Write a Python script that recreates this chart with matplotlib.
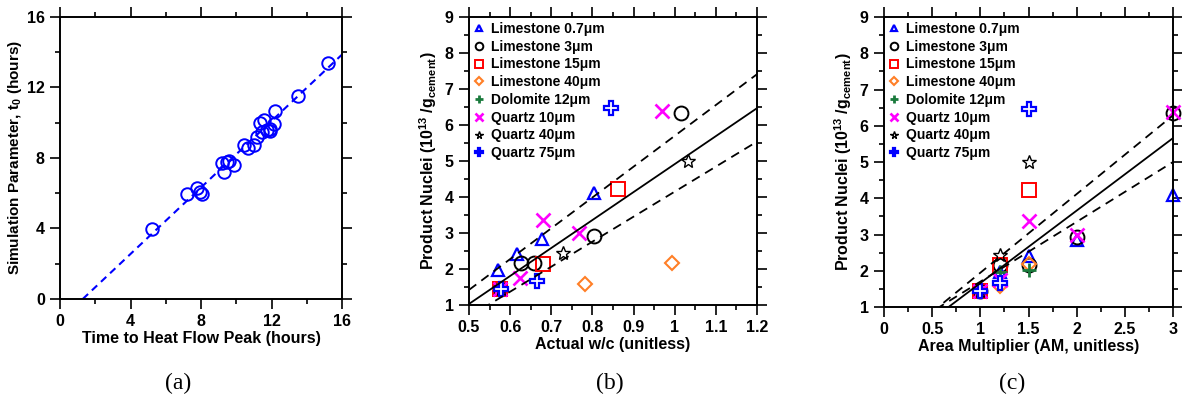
import numpy as np
import matplotlib
matplotlib.use("Agg")
import matplotlib.pyplot as plt
from matplotlib.ticker import MultipleLocator, FuncFormatter

plt.rcParams["font.family"] = ["Liberation Sans", "DejaVu Sans"]
plt.rcParams["font.weight"] = "bold"
plt.rcParams["axes.labelweight"] = "bold"
plt.rcParams["mathtext.default"] = "regular"

# (a) simulation t0 vs measured time to heat flow peak
t_peak = [5.21, 7.20, 7.77, 7.95, 8.05, 9.19, 9.28, 9.45, 9.56, 9.85, 10.42, 10.64,
          11.00, 11.17, 11.32, 11.46, 11.55, 11.74, 11.89, 11.93, 12.12, 12.22, 13.50, 15.21]
t0 = [3.95, 5.95, 6.31, 6.08, 5.95, 7.69, 7.18, 7.75, 7.82, 7.63, 8.73, 8.54,
      8.75, 9.20, 9.96, 9.48, 10.15, 9.58, 9.52, 9.67, 9.92, 10.67, 11.51, 13.40]
fit_a = (0.943, -1.216)

# (b), (c) product nuclei per mixture
names = ["Limestone 0.7\u03bcm", "Limestone 3\u03bcm", "Limestone 15\u03bcm", "Limestone 40\u03bcm",
         "Dolomite 12\u03bcm", "Quartz 10\u03bcm", "Quartz 40\u03bcm", "Quartz 75\u03bcm"]
wc_ls07 = [0.575, 0.570, 0.616, 0.677, 0.804]
wc_ls3 = [0.575, 0.627, 0.657, 0.804, 1.016]
wc_ls15 = [0.575, 0.680, 0.861]
wc_ls40 = [0.575, 0.781, 0.993]
wc_dol12 = [0.575, np.nan, np.nan]
wc_qz10 = [0.575, 0.624, 0.681, 0.768, 0.970]
wc_qz40 = [0.578, 0.728, 1.031]
wc_qz75 = [0.578, 0.666, 0.845]

am_5 = [1, 1.2, 1.5, 2, 3]
am_3 = [1, 1.2, 1.5]

n_ls07 = [1.45, 1.96, 2.42, 2.84, 4.10]
n_ls3 = [1.45, 2.16, 2.17, 2.93, 6.34]
n_ls15 = [1.45, 2.15, 4.22]
n_ls40 = [1.45, 1.59, 2.18]
n_dol12 = [1.45, 1.97, 2.02]
n_qz10 = [1.45, 1.75, 3.36, 3.00, 6.39]
n_qz40 = [1.45, 2.44, 5.01]
n_qz75 = [1.45, 1.67, 6.46]

wc_all = [wc_ls07, wc_ls3, wc_ls15, wc_ls40, wc_dol12, wc_qz10, wc_qz40, wc_qz75]
am_all = [am_5, am_5, am_3, am_3, am_3, am_5, am_3, am_3]
n_all = [n_ls07, n_ls3, n_ls15, n_ls40, n_dol12, n_qz10, n_qz40, n_qz75]

# slope, intercept of fit and bounds
fit_b = [(7.77, -2.855, "-"), (8.56, -2.86, "--"), (6.95, -2.80, "--")]
fit_c = [(2.00, -0.34, "-"), (2.17, -0.224, "--"), (1.65, 0.05, "--")]

styles = [
    dict(marker="^", color="#0000ff", ms=8, mew=1.6),
    dict(marker="o", color="black", ms=10, mew=1.4),
    dict(marker="s", color="#ff0000", ms=10, mew=1.4),
    dict(marker="D", color="#ff7f27", ms=7, mew=1.5),
    dict(marker="+", color="#1a7a3c", ms=10, mew=2.0),
    dict(marker="x", color="#ff00ff", ms=10, mew=1.9),
    dict(marker="*", color="black", ms=10, mew=1.0),
    dict(marker="P", color="#0000ff", ms=10, mew=1.6),
]


def style_axes(ax):
    for s in ax.spines.values():
        s.set_linewidth(1.4)
    ax.tick_params(which="both", direction="out", top=True, right=True,
                   width=1.2, labelsize=11.5, pad=4)
    ax.tick_params(which="major", length=7)
    ax.tick_params(which="minor", length=3.5)


fig = plt.figure(figsize=(11.82, 4.01), dpi=100)
ax_a = fig.add_axes([0.0508, 0.2544, 0.2386, 0.7032])
ax_b = fig.add_axes([0.3968, 0.2394, 0.2437, 0.7182])
ax_c = fig.add_axes([0.7479, 0.2344, 0.2445, 0.7232])

# panel (a)
ax_a.plot(t_peak, t0, "o", ms=9, mfc="none", mec="#0000ff", mew=1.4)
xa = np.linspace(-fit_a[1] / fit_a[0], 16, 50)
ax_a.plot(xa, fit_a[0] * xa + fit_a[1], color="#0000ff", lw=1.5, dashes=(3.5, 2.5))
ax_a.set_xlim(0, 16)
ax_a.set_ylim(0, 16)
ax_a.xaxis.set_major_locator(MultipleLocator(4))
ax_a.xaxis.set_minor_locator(MultipleLocator(2))
ax_a.yaxis.set_major_locator(MultipleLocator(4))
ax_a.yaxis.set_minor_locator(MultipleLocator(2))
ax_a.set_xlabel("Time to Heat Flow Peak (hours)", fontsize=11.5, labelpad=1)
ax_a.set_ylabel("Simulation Parameter, t$_0$ (hours)", fontsize=11, labelpad=2)
style_axes(ax_a)

fmt = FuncFormatter(lambda v, p: "%g" % round(v, 2))
ylab = "Product Nuclei (10$^{13}$ /g$_{cement}$)"

for ax, xs_all, fits, xlim in [(ax_b, wc_all, fit_b, (0.5, 1.2)),
                                (ax_c, am_all, fit_c, (0, 3))]:
    for name, xs, ys, st in zip(names, xs_all, n_all, styles):
        mfc = "none" if st["marker"] not in ("+", "x") else st["color"]
        ax.plot(xs, ys, linestyle="none", marker=st["marker"], ms=st["ms"],
                mfc="white" if st["marker"] == "P" else mfc,
                mec=st["color"], mew=st["mew"], label=name, clip_on=False)
    xl = np.linspace(xlim[0], xlim[1], 100)
    for slope, icpt, ls in fits:
        if ls == "-":
            ax.plot(xl, slope * xl + icpt, color="black", lw=1.3)
        else:
            ax.plot(xl, slope * xl + icpt, color="black", lw=1.3, dashes=(5, 3.5))
    ax.set_xlim(*xlim)
    ax.set_ylim(1, 9)
    ax.yaxis.set_major_locator(MultipleLocator(1))
    ax.yaxis.set_minor_locator(MultipleLocator(0.5))
    ax.xaxis.set_major_formatter(fmt)
    ax.set_ylabel(ylab, fontsize=11.5, labelpad=4)
    style_axes(ax)
    leg = ax.legend(loc="upper left", frameon=False, fontsize=10, markerscale=0.55,
                    handlelength=0.8, handletextpad=0.4, labelspacing=0.27,
                    borderaxespad=0.15, borderpad=0.2)

ax_b.xaxis.set_major_locator(MultipleLocator(0.1))
ax_b.xaxis.set_minor_locator(MultipleLocator(0.05))
ax_b.set_xlabel("Actual w/c (unitless)", fontsize=11.5, labelpad=1)
ax_c.xaxis.set_major_locator(MultipleLocator(0.5))
ax_c.xaxis.set_minor_locator(MultipleLocator(0.25))
ax_c.set_xlabel("Area Multiplier (AM, unitless)", fontsize=11.5, labelpad=1)

for lbl, x in [("(a)", 0.151), ("(b)", 0.516), ("(c)", 0.856)]:
    fig.text(x, 0.045, lbl, ha="center", va="center", fontsize=17,
             family="Liberation Serif", weight="normal")

fig.savefig("out.png", dpi=100)
